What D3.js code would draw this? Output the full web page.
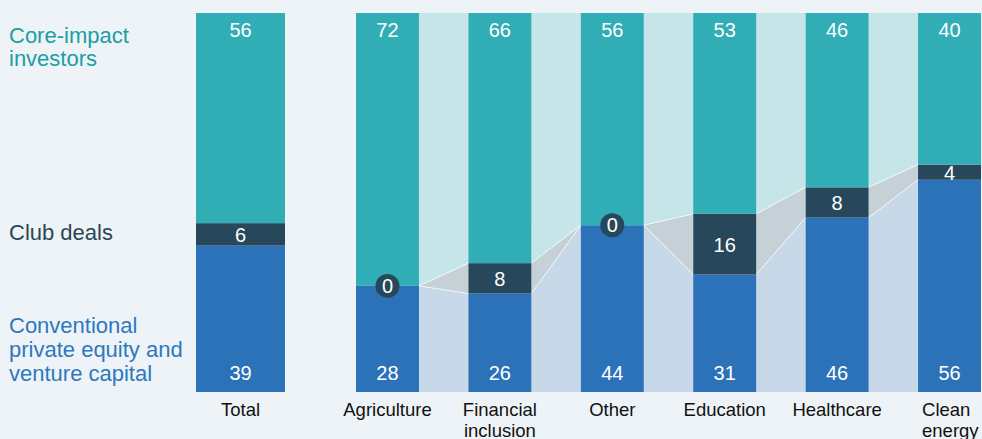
<!DOCTYPE html>
<html><head><meta charset="utf-8">
<script src="https://cdn.jsdelivr.net/npm/d3@7"></script>
<style>
html,body{margin:0;padding:0;background:#edf3f6;}
svg{display:block;font-family:"Liberation Sans",Arial,Helvetica,sans-serif;}
</style></head>
<body>
<svg id="chart" width="982" height="439"></svg>
<script>
const categories = ["Total","Agriculture","Financial inclusion","Other","Education","Healthcare","Clean energy"];
const categoryLines = [["Total"],["Agriculture"],["Financial","inclusion"],["Other"],["Education"],["Healthcare"],["Clean","energy"]];
const conventional = [39,28,26,44,31,46,56];
const club = [6,0,8,0,16,8,4];
const core = [56,72,66,56,53,46,40];
const seriesNames = ["Conventional private equity and venture capital","Club deals","Core-impact investors"];
const legendLines = [["Conventional","private equity and","venture capital"],["Club deals"],["Core-impact","investors"]];

const colors = {conv:"#2b72b8", club:"#27485a", core:"#31adb6"};
const light = {conv:"#c7d9e8", club:"#c5d1d7", core:"#c5e5e8"};

const svg = d3.select("#chart");
const W = 982, H = 439;
svg.append("rect").attr("width",W).attr("height",H).attr("fill","#edf3f6");

const y = d3.scaleLinear().domain([0,100]).range([392,13]);
const sectors = categories.slice(1);
const x = d3.scaleBand().domain(sectors).range([356,981]).paddingInner(0.44).paddingOuter(0);
const xTotal = d3.scaleBand().domain(["Total"]).range([196,285]).padding(0);
function bx(c){ return c==="Total" ? xTotal(c) : x(c); }
function bw(c){ return c==="Total" ? xTotal.bandwidth() : x.bandwidth(); }

// build stacked data (normalized to 100)
const rows = categories.map((c,i)=>{
  const s = conventional[i]+club[i]+core[i];
  const k = 100/s;
  const a0 = 0, a1 = conventional[i]*k;
  const b1 = a1 + club[i]*k;
  const c1 = 100;
  return {c, i, segs:[
    {key:"conv", y0:a0, y1:a1, v:conventional[i]},
    {key:"club", y0:a1, y1:b1, v:club[i]},
    {key:"core", y0:b1, y1:c1, v:core[i]}
  ]};
});

// connectors between sector bars
const gConn = svg.append("g");
for(let j=1;j<rows.length-1;j++){
  const r0 = rows[j], r1 = rows[j+1];
  const xa = bx(r0.c)+bw(r0.c), xb = bx(r1.c);
  r0.segs.forEach((s,k)=>{
    const t = r1.segs[k];
    gConn.append("path")
      .attr("d", d3.line()([[xa,y(s.y0)],[xb,y(t.y0)],[xb,y(t.y1)],[xa,y(s.y1)]]) + "Z")
      .attr("fill", light[s.key]);
  });
  // white boundary lines
  [0,1].forEach(k=>{
    gConn.append("line")
      .attr("x1",xa).attr("y1",y(r0.segs[k].y1))
      .attr("x2",xb).attr("y2",y(r1.segs[k].y1))
      .attr("stroke","#ffffff").attr("stroke-opacity",0.75).attr("stroke-width",1);
  });
}

// bars
const gBars = svg.append("g");
rows.forEach(r=>{
  r.segs.forEach(s=>{
    if(s.y1-s.y0<=0) return;
    gBars.append("rect")
      .attr("x",bx(r.c)).attr("width",bw(r.c))
      .attr("y",y(s.y1)).attr("height",y(s.y0)-y(s.y1))
      .attr("fill",colors[s.key]);
  });
});

// value labels
const gLab = svg.append("g").attr("fill","#ffffff").attr("font-size",20).attr("text-anchor","middle");
rows.forEach(r=>{
  const cx = bx(r.c)+bw(r.c)/2;
  const [cv, cl, co] = r.segs;
  gLab.append("text").attr("x",cx).attr("y",y(co.y1)+24).text(co.v);
  gLab.append("text").attr("x",cx).attr("y",y(cv.y0)-12).text(cv.v);
  if(cl.v===0){
    gLab.append("circle").attr("cx",cx).attr("cy",y(cl.y0)).attr("r",12).attr("fill",colors.club);
    gLab.append("text").attr("x",cx).attr("y",y(cl.y0)+7).text(cl.v);
  } else {
    gLab.append("text").attr("x",cx).attr("y",(y(cl.y0)+y(cl.y1))/2+7.5).text(cl.v);
  }
});

// category labels
const gCat = svg.append("g").attr("fill","#111111").attr("font-size",18.5);
categories.forEach((c,i)=>{
  const last = i===categories.length-1;
  const cx = last ? bx(c)+4 : bx(c)+bw(c)/2;
  const t = gCat.append("text").attr("text-anchor", last?"start":"middle");
  categoryLines[i].forEach((ln,k)=>{
    t.append("tspan").attr("x",cx).attr("y",416+k*20.5).text(ln);
  });
});

// legend labels at left
const legendColors = ["#2e78c0","#2a4655","#1d9ea4"];
const legendBaselines = [[333,357,380.5],[240],[42.5,66]];
legendLines.forEach((lines,i)=>{
  const t = svg.append("text").attr("fill",legendColors[i]).attr("font-size",22);
  lines.forEach((ln,k)=>{
    t.append("tspan").attr("x",9).attr("y",legendBaselines[i][k]).text(ln);
  });
});
</script>
</body></html>
